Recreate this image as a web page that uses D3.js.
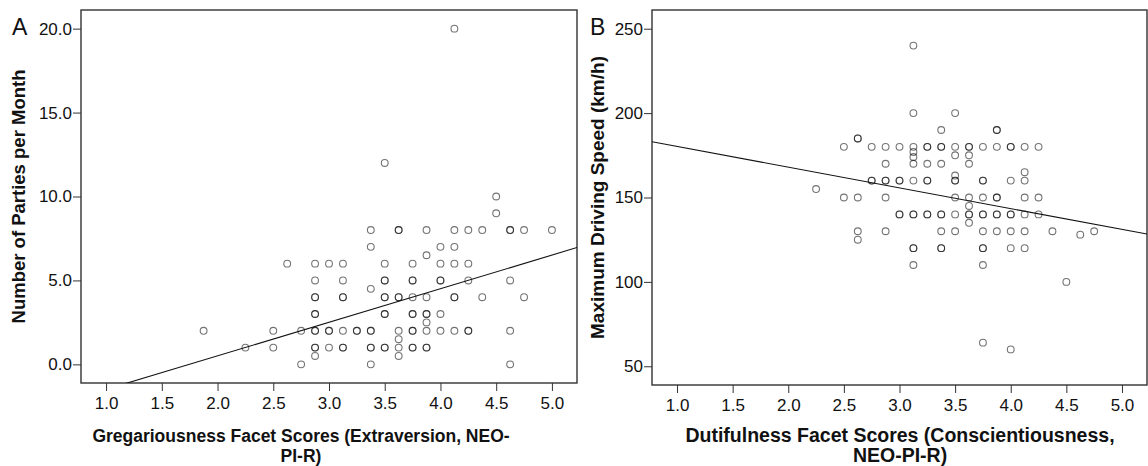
<!DOCTYPE html>
<html>
<head>
<meta charset="utf-8">
<script src="https://cdn.jsdelivr.net/npm/d3@7/dist/d3.min.js"></script>
<style>
  html, body { margin: 0; padding: 0; background: #fff; }
  svg { display: block; }
  text { font-family: "Liberation Sans", Arial, sans-serif; fill: #111; }
</style>
</head>
<body>
<svg id="chart" width="1148" height="466"></svg>
<script>
// Panel A: gregariousness facet score vs. number of parties per month
const gregX = [
  1.875, 2.25, 2.5, 2.5, 2.625, 2.75, 2.75,
  2.875, 2.875, 2.875, 2.875, 2.875, 2.875, 2.875, 2.875, 2.875, 2.875, 2.875,
  3.0, 3.0, 3.0, 3.0,
  3.125, 3.125, 3.125, 3.125, 3.125, 3.125, 3.125,
  3.25, 3.25,
  3.375, 3.375, 3.375, 3.375, 3.375, 3.375, 3.375, 3.375,
  3.5, 3.5, 3.5, 3.5, 3.5, 3.5, 3.5, 3.5, 3.5, 3.5,
  3.625, 3.625, 3.625, 3.625, 3.625, 3.625, 3.625, 3.625,
  3.75, 3.75, 3.75, 3.75, 3.75, 3.75, 3.75, 3.75, 3.75, 3.75,
  3.875, 3.875, 3.875, 3.875, 3.875, 3.875, 3.875, 3.875, 3.875,
  4.0, 4.0, 4.0, 4.0, 4.0, 4.0,
  4.125, 4.125, 4.125, 4.125, 4.125, 4.125, 4.125,
  4.25, 4.25, 4.25, 4.25, 4.25,
  4.375, 4.375, 4.5, 4.5,
  4.625, 4.625, 4.625, 4.625, 4.625,
  4.75, 4.75, 5.0
];
const partiesY = [
  2, 1, 2, 1, 6, 2, 0,
  6, 5, 4, 3, 3, 2, 2, 1, 0.5, 4, 1,
  6, 2, 2, 1,
  5, 4, 4, 2, 1, 1, 6,
  2, 2,
  8, 7, 4.5, 2, 2, 1, 1, 0,
  12, 6, 5, 5, 4, 4, 3, 3, 1, 1,
  8, 8, 4, 4, 2, 1.5, 1, 0.5,
  6, 5, 5, 4, 3, 3, 2, 2, 1, 1,
  8, 6.5, 4, 3, 3, 2.5, 2, 1, 1,
  7, 6, 5, 5, 3, 2,
  20, 8, 7, 6, 4, 4, 2,
  8, 6, 5, 2, 2,
  8, 4, 10, 9,
  8, 8, 5, 2, 0,
  8, 4, 8
];

// Panel B: dutifulness facet score vs. maximum driving speed
const dutyX = [
  2.25, 2.5, 2.5,
  2.625, 2.625, 2.625, 2.625, 2.625,
  2.75, 2.75, 2.75,
  2.875, 2.875, 2.875, 2.875, 2.875, 2.875,
  3.0, 3.0, 3.0, 3.0, 3.0,
  3.125, 3.125, 3.125, 3.125, 3.125, 3.125, 3.125, 3.125, 3.125, 3.125, 3.125, 3.125,
  3.25, 3.25, 3.25, 3.25, 3.25, 3.25, 3.25,
  3.375, 3.375, 3.375, 3.375, 3.375, 3.375, 3.375, 3.375, 3.375,
  3.5, 3.5, 3.5, 3.5, 3.5, 3.5, 3.5, 3.5, 3.5,
  3.625, 3.625, 3.625, 3.625, 3.625, 3.625, 3.625, 3.625, 3.625,
  3.75, 3.75, 3.75, 3.75, 3.75, 3.75, 3.75, 3.75, 3.75, 3.75, 3.75,
  3.875, 3.875, 3.875, 3.875, 3.875, 3.875, 3.875, 3.875,
  4.0, 4.0, 4.0, 4.0, 4.0, 4.0, 4.0, 4.0,
  4.125, 4.125, 4.125, 4.125, 4.125, 4.125, 4.125,
  4.25, 4.25, 4.25,
  4.375, 4.5, 4.625, 4.75
];
const speedY = [
  155, 180, 150,
  185, 150, 130, 125, 185,
  180, 160, 160,
  180, 170, 160, 160, 150, 130,
  180, 160, 160, 140, 140,
  240, 200, 177, 174, 170, 160, 140, 140, 120, 120, 110, 180,
  180, 170, 160, 160, 140, 140, 180,
  190, 180, 170, 140, 140, 130, 120, 120, 180,
  200, 175, 163, 160, 160, 150, 140, 130, 180,
  180, 175, 170, 150, 145, 140, 140, 135, 180,
  160, 160, 150, 140, 140, 130, 120, 120, 110, 64, 180,
  190, 190, 150, 150, 140, 140, 130, 180,
  180, 180, 160, 140, 140, 130, 120, 60,
  180, 165, 160, 150, 140, 130, 120,
  180, 150, 140,
  130, 100, 128, 130
];

// Fitted linear trend (intercept, slope) for each panel
const fitA = [-3.49, 2.0];
const fitB = [192.6, -12.3];

// Axis tick values and labels
const xTicks = [1.0, 1.5, 2.0, 2.5, 3.0, 3.5, 4.0, 4.5, 5.0];
const yTicksA = [0, 5, 10, 15, 20];
const yTicksB = [50, 100, 150, 200, 250];

const panels = [
  {
    letter: "A", xs: gregX, ys: partiesY, fit: fitA,
    xDomain: [0.775, 5.225], yDomain: [-1.11, 21.11],
    left: 81, right: 577, top: 10, bottom: 383,
    yTicks: yTicksA, yFmt: d3.format(".1f"),
    yTitle: "Number of Parties per Month", yTitleX: 18.5, yTitleSize: 18.5,
    xTitle: ["Gregariousness Facet Scores (Extraversion, NEO-", "PI-R)"], xTitleCx: 301,
    xTitleSize: 17.5,
    letterX: 12
  },
  {
    letter: "B", xs: dutyX, ys: speedY, fit: fitB,
    xDomain: [0.775, 5.225], yDomain: [38.9, 261.1],
    left: 652, right: 1147, top: 10, bottom: 385,
    yTicks: yTicksB, yFmt: d3.format("d"),
    yTitle: "Maximum Driving Speed (km/h)", yTitleX: 597, yTitleSize: 19,
    xTitle: ["Dutifulness Facet Scores (Conscientiousness,", "NEO-PI-R)"], xTitleCx: 900,
    xTitleSize: 19.5,
    letterX: 590
  }
];

const svg = d3.select("#chart");

panels.forEach((p, i) => {
  const x = d3.scaleLinear().domain(p.xDomain).range([p.left, p.right]);
  const y = d3.scaleLinear().domain(p.yDomain).range([p.bottom, p.top]);
  const g = svg.append("g");

  const clipId = "clip" + i;
  svg.append("clipPath").attr("id", clipId)
    .append("rect")
    .attr("x", p.left).attr("y", p.top)
    .attr("width", p.right - p.left).attr("height", p.bottom - p.top);

  // x axis
  const xAxis = g.append("g")
    .attr("transform", `translate(0,${p.bottom})`)
    .call(d3.axisBottom(x).tickValues(xTicks).tickFormat(d3.format(".1f"))
      .tickSize(8).tickSizeOuter(0).tickPadding(6));
  // y axis
  const yAxis = g.append("g")
    .attr("transform", `translate(${p.left},0)`)
    .call(d3.axisLeft(y).tickValues(p.yTicks).tickFormat(p.yFmt)
      .tickSize(8).tickSizeOuter(0).tickPadding(1));

  [xAxis, yAxis].forEach(a => {
    a.select(".domain").remove();
    a.selectAll(".tick line").attr("stroke", "#333").attr("stroke-width", 1);
    a.selectAll(".tick text")
      .style("font-family", '"Liberation Sans", Arial, sans-serif')
      .style("font-size", "17px").attr("fill", "#222");
  });

  // frame
  g.append("rect")
    .attr("x", p.left).attr("y", p.top)
    .attr("width", p.right - p.left).attr("height", p.bottom - p.top)
    .attr("fill", "none").attr("stroke", "#333").attr("stroke-width", 1.4);

  // points
  const pts = p.xs.map((v, k) => [v, p.ys[k]]);
  g.append("g").selectAll("circle").data(pts).join("circle")
    .attr("cx", d => x(d[0])).attr("cy", d => y(d[1]))
    .attr("r", 3.4)
    .attr("fill", "none")
    .attr("stroke", "#000").attr("stroke-opacity", 0.55)
    .attr("stroke-width", 1.1);

  // trend line
  const [b0, b1] = p.fit;
  g.append("line")
    .attr("clip-path", `url(#${clipId})`)
    .attr("x1", x(p.xDomain[0])).attr("y1", y(b0 + b1 * p.xDomain[0]))
    .attr("x2", x(p.xDomain[1])).attr("y2", y(b0 + b1 * p.xDomain[1]))
    .attr("stroke", "#111").attr("stroke-width", 1.1);

  // panel letter
  svg.append("text").attr("x", p.letterX).attr("y", 35)
    .style("font-size", "23px").text(p.letter);

  // y title
  svg.append("text")
    .attr("transform", `translate(${p.yTitleX},${(p.top + p.bottom) / 2}) rotate(-90)`)
    .attr("text-anchor", "middle").attr("dy", "0.35em")
    .style("font-size", p.yTitleSize + "px").style("font-weight", "bold")
    .text(p.yTitle);

  // x title, two lines
  svg.append("text")
    .attr("text-anchor", "middle")
    .style("font-size", p.xTitleSize + "px").style("font-weight", "bold")
    .selectAll("tspan").data(p.xTitle).join("tspan")
    .attr("x", p.xTitleCx).attr("y", (d, k) => 442 + k * 20)
    .text(d => d);
});
</script>
</body>
</html>
